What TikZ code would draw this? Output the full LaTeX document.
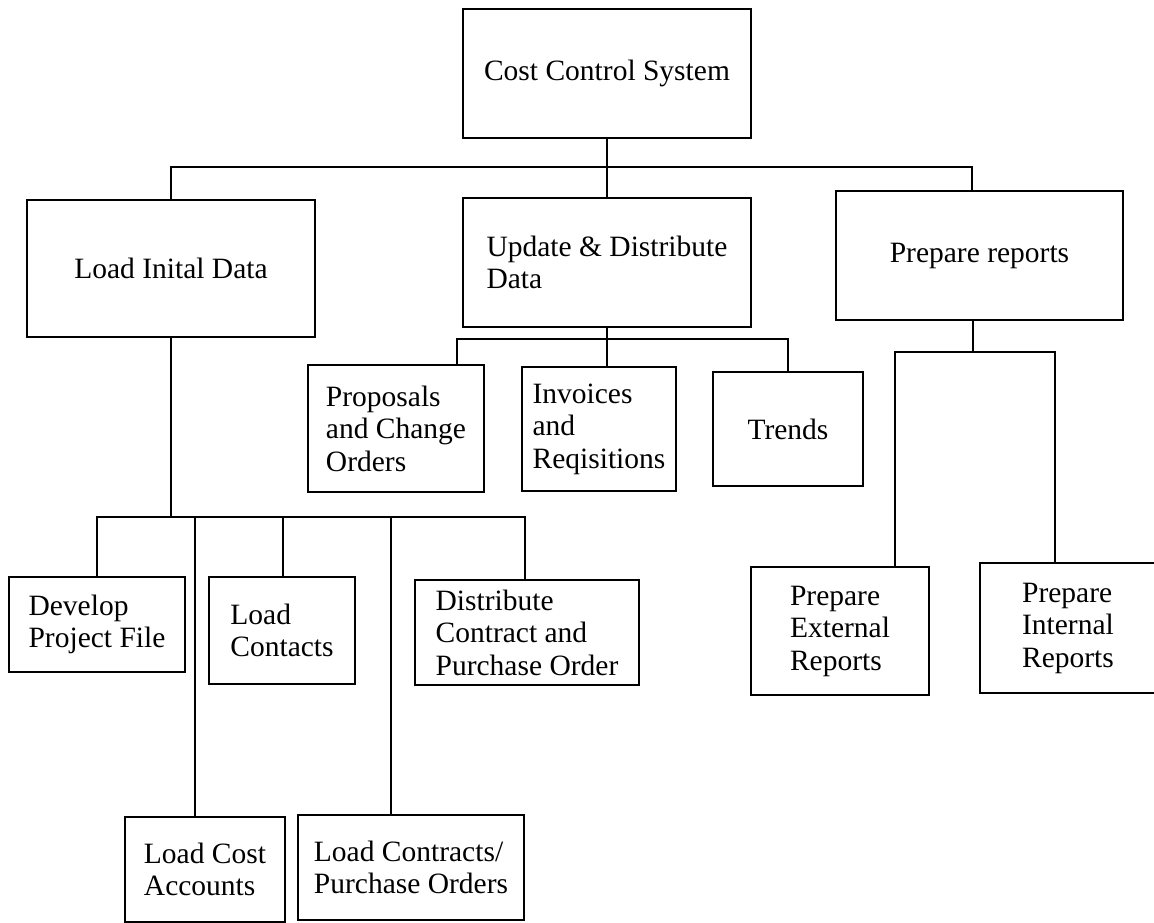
\documentclass[tikz,border=0pt]{standalone}
\usepackage{fontspec}
\setmainfont{Liberation Serif}
\begin{document}
\begin{tikzpicture}[x=1pt,y=-1pt,
  box/.style={draw=black, line width=1.8pt, inner sep=0pt, align=left,
    font=\fontsize{29.5}{32.5}\selectfont},
  link/.style={draw=black, line width=1.8pt}]
\useasboundingbox (0,0) rectangle (1154,923);

% top level
\node[box, minimum width=288, minimum height=129] (ccs) at (607,73.5) {Cost Control System};

% second level
\node[box, minimum width=288, minimum height=137] (load) at (171,268.5) {Load Inital Data};
\node[box, minimum width=288, minimum height=129] (upd) at (607,262.5) {Update \& Distribute\\Data};
\node[box, minimum width=287, minimum height=129] (prep) at (979.5,255.5) {Prepare reports};

% under "Update & Distribute Data"
\node[box, minimum width=176, minimum height=127] (prop) at (396,428.5) {Proposals\\and Change\\Orders};
\node[box, minimum width=154, minimum height=124] (inv) at (599,429) {Invoices\\and\\Reqisitions};
\node[box, minimum width=150, minimum height=114] (trend) at (788,429) {Trends};

% under "Load Inital Data"
\node[box, minimum width=176, minimum height=95] (dev) at (97,624.5) {Develop\\Project File};
\node[box, minimum width=146, minimum height=107] (cont) at (282,630.5) {Load\\Contacts};
\node[box, minimum width=224, minimum height=105] (dist) at (527,632.5) {Distribute\\Contract and\\Purchase Order};
\node[box, minimum width=160, minimum height=105] (cost) at (205,869.5) {Load Cost\\Accounts};
\node[box, minimum width=226, minimum height=105] (lcon) at (411,867.5) {Load Contracts/\\Purchase Orders};

% under "Prepare reports"
\node[box, minimum width=178, minimum height=128] (ext) at (840,631) {Prepare\\External\\Reports};
\node[box, minimum width=176, minimum height=130] (int) at (1068,628) {Prepare\\Internal\\Reports};

% bus junctions
\coordinate (j0) at (607,167);
\coordinate (j1) at (607,339);
\coordinate (j2) at (171,517);
\coordinate (j3) at (973,352);

% top bus
\draw[link] (ccs.south) -- (j0);
\draw[link] (j0) -- (upd.north);
\draw[link] (load.north) |- (j0) -| ([xshift=-7.5pt]prep.north);

% update bus
\draw[link] (upd.south) -- (j1);
\draw[link] ([xshift=61pt]prop.north) |- (j1) -| (trend.north);
\draw[link] (j1) -- ([xshift=8pt]inv.north);

% load bus
\draw[link] (load.south) -- (j2);
\draw[link] (dev.north) |- (j2) -| ([xshift=-2pt]dist.north);
\draw[link] ([xshift=1pt]cont.north) -- ([xshift=1pt]cont.north |- j2);
\draw[link] ([xshift=-10pt]cost.north) -- ([xshift=-10pt]cost.north |- j2);
\draw[link] ([xshift=-20pt]lcon.north) -- ([xshift=-20pt]lcon.north |- j2);

% reports bus
\draw[link] ([xshift=-6.5pt]prep.south) -- (j3);
\draw[link] ([xshift=55pt]ext.north) |- (j3) -| ([xshift=-13pt]int.north);
\end{tikzpicture}
\end{document}
